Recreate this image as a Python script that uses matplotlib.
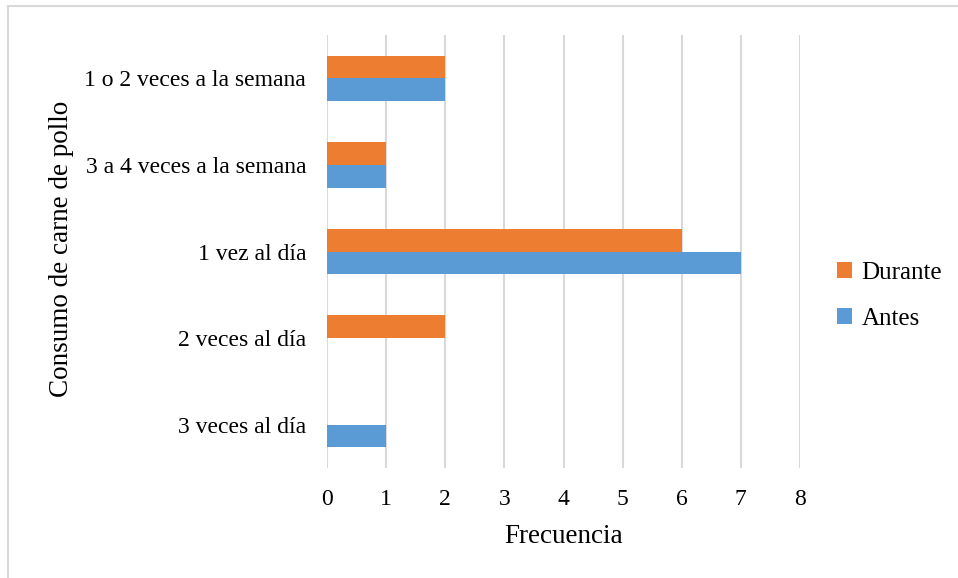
import matplotlib
matplotlib.use("Agg")
import matplotlib.pyplot as plt
from matplotlib.lines import Line2D
import numpy as np

categories = ["1 o 2 veces a la semana", "3 a 4 veces a la semana", "1 vez al día",
              "2 veces al día", "3 veces al día"]
durante = [2, 1, 6, 2, 0]
antes = [2, 1, 7, 0, 1]
xticks = [0, 1, 2, 3, 4, 5, 6, 7, 8]

plt.rcParams['font.family'] = ['Liberation Serif', 'DejaVu Serif']

W, H = 958, 578
fig = plt.figure(figsize=(W / 100, H / 100), dpi=100)
ax = fig.add_axes([327 / W, 1 - 468 / H, (800 - 327) / W, (468 - 35) / H])

orange = "#ED7D31"
blue = "#5B9BD5"
h = 0.262
y = np.arange(len(categories))
ax.barh(y - h / 2, durante, height=h, color=orange, linewidth=0,
        label="Durante", zorder=3)
ax.barh(y + h / 2, antes, height=h, color=blue, linewidth=0,
        label="Antes", zorder=3)

ax.set_ylim(len(categories) - 0.5, -0.5)
ax.set_xlim(0, 8)
ax.set_yticks(y)
ax.set_yticklabels(categories, fontsize=17)
ax.set_xticks(xticks)
ax.set_xticklabels([str(t) for t in xticks], fontsize=17)
ax.tick_params(axis="both", length=0, colors="#000000")
ax.tick_params(axis="x", pad=15)
ax.tick_params(axis="y", pad=15)
ax.grid(axis="x", color="#D9D9D9", linewidth=1.5, zorder=0)
for s in ax.spines.values():
    s.set_visible(False)

ax.set_xlabel("Frecuencia", fontsize=19.5, labelpad=10)
fig.text(62 / W, 1 - 249 / H, "Consumo de carne de pollo", rotation=90, fontsize=19.5,
         ha="center", va="center")

handles, labels = ax.get_legend_handles_labels()
leg = fig.legend(handles, labels, loc="center left", bbox_to_anchor=(814 / W, 1 - 296 / H),
                 frameon=False, fontsize=18, handlelength=0.6, handleheight=0.6,
                 labelspacing=0.95, handletextpad=0.4)

# page border (left and top)
fig.add_artist(Line2D([8 / W, 8 / W], [0, 1 - 6 / H], color="#D9D9D9", linewidth=1.5,
                      transform=fig.transFigure))
fig.add_artist(Line2D([8 / W, 1 - 1 / W], [1 - 6 / H, 1 - 6 / H], color="#D9D9D9",
                      linewidth=1.5, transform=fig.transFigure))

fig.savefig("out.png", dpi=100)
